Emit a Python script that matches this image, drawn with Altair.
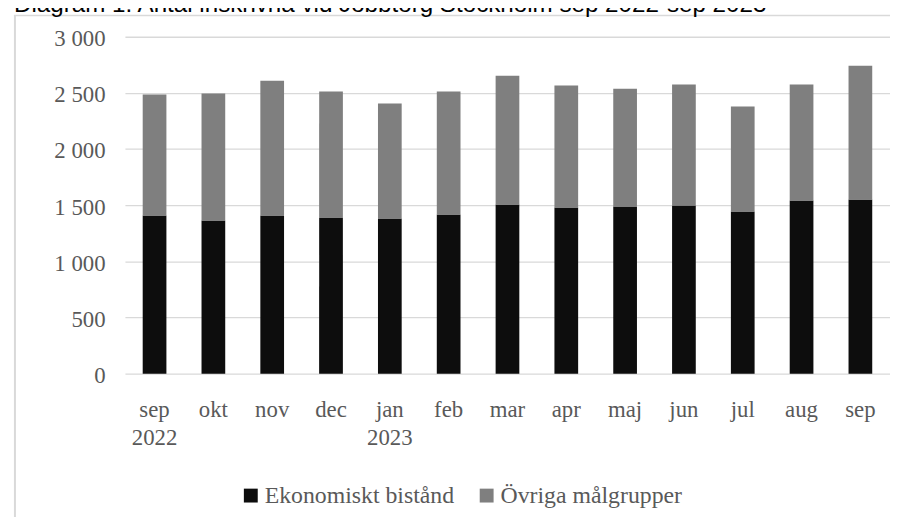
import altair as alt
import pandas as pd

months = ["sep 2022", "okt", "nov", "dec", "jan 2023", "feb", "mar", "apr", "maj", "jun", "jul", "aug", "sep"]
ekonomiskt = [1409, 1365, 1409, 1391, 1382, 1418, 1506, 1480, 1488, 1497, 1444, 1541, 1550]
ovriga = [1077, 1129, 1200, 1121, 1024, 1094, 1147, 1085, 1050, 1077, 936, 1033, 1191]
series = ["Ekonomiskt bistånd", "Övriga målgrupper"]
colors = ["#0d0d0d", "#7f7f7f"]
title_text = "Diagram 1. Antal inskrivna vid Jobbtorg Stockholm sep 2022-sep 2023"

rows = []
for i, m in enumerate(months):
    rows.append({"month": m, "serie": series[0], "value": ekonomiskt[i], "ord": 0})
    rows.append({"month": m, "serie": series[1], "value": ovriga[i], "ord": 1})
df = pd.DataFrame(rows)

SERIF = "Liberation Serif"
TXT = "#595959"

bars = alt.Chart(df).mark_bar().encode(
    x=alt.X("month:N", sort=months,
            scale=alt.Scale(paddingInner=0.597, paddingOuter=0.302),
            axis=alt.Axis(title=None, labelAngle=0, ticks=False, domain=False, grid=False,
                          labelExpr="split(datum.label, ' ')", labelFont=SERIF,
                          labelFontSize=23, labelColor=TXT, labelPadding=25,
                          labelLineHeight=28, labelBaseline="top")),
    y=alt.Y("value:Q", stack="zero",
            scale=alt.Scale(domain=[0, 3000], nice=False),
            axis=alt.Axis(title=None, values=[0, 500, 1000, 1500, 2000, 2500, 3000],
                          ticks=False, domain=False, gridColor="#d9d9d9", gridWidth=1.3,
                          labelExpr="replace(format(datum.value, ','), ',', ' ')",
                          labelFont=SERIF, labelFontSize=23, labelColor=TXT,
                          labelPadding=20, labelOffset=2)),
    color=alt.Color("serie:N", scale=alt.Scale(domain=series, range=colors),
                    legend=alt.Legend(title=None, orient="none", legendX=115, legendY=451,
                                      direction="horizontal", symbolType="square",
                                      symbolSize=196, symbolStrokeWidth=0,
                                      labelFont=SERIF, labelFontSize=24, labelColor=TXT,
                                      labelLimit=500, labelOffset=2, columnPadding=20,
                                      padding=0)),
    order=alt.Order("ord:Q", sort="ascending"),
)

frame_left = alt.Chart(pd.DataFrame({"a": [0]})).mark_rule(color="#d9d9d9", strokeWidth=2).encode(
    x=alt.value(-111), y=alt.value(-22), y2=alt.value(495))
frame_top = alt.Chart(pd.DataFrame({"a": [0]})).mark_rule(color="#d9d9d9", strokeWidth=1.5).encode(
    x=alt.value(-112), x2=alt.value(800), y=alt.value(-21.5))
title = alt.Chart(pd.DataFrame({"t": [title_text]})).mark_text(
    font="Liberation Sans", fontSize=24.4, color="#000000", align="left", baseline="alphabetic"
).encode(x=alt.value(-112), y=alt.value(-24.5), text="t:N")

chart = alt.layer(bars, frame_left, frame_top, title).properties(
    width=772, height=340,
    autosize=alt.AutoSizeParams(type="none"),
    padding={"left": 118, "top": 26.7, "right": 0, "bottom": 142.3},
).configure_view(stroke=None)

chart.save("out.html", embed_options={"renderer": "svg", "actions": False})
